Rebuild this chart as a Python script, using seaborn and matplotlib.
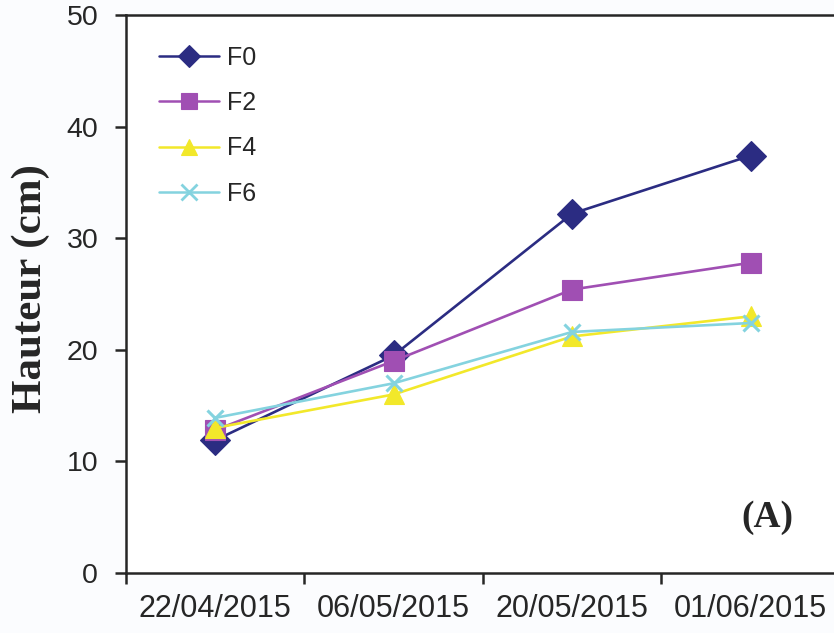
import pandas as pd
import numpy as np
import seaborn as sns
import matplotlib.pyplot as plt

# values
dates = ["22/04/2015", "06/05/2015", "20/05/2015", "01/06/2015"]
f0 = [11.9, 19.5, 32.2, 37.4]
f2 = [12.8, 19.0, 25.4, 27.8]
f4 = [13.0, 16.0, 21.2, 23.0]
f6 = [13.9, 17.0, 21.6, 22.4]
series = ["F0", "F2", "F4", "F6"]

colors = {"F0": "#2b2c82", "F2": "#a04fb3", "F4": "#f2e82a", "F6": "#84d3df"}
markers = {"F0": "D", "F2": "s", "F4": "^", "F6": "X"}

rows = []
for name, vals in zip(series, [f0, f2, f4, f6]):
    for i, v in enumerate(vals):
        rows.append({"pos": i, "date": dates[i], "serie": name, "hauteur": v})
df = pd.DataFrame(rows)

sns.set_style("ticks")
plt.rcParams['font.family'] = ['Liberation Sans', 'DejaVu Sans']

fig = plt.figure(figsize=(8.34, 6.33), dpi=100)
fig.patch.set_facecolor("#fbfcfe")
ax = fig.add_axes([0.151, 0.0948, 0.856, 0.8815])

sns.lineplot(data=df, x="pos", y="hauteur", hue="serie", style="serie",
             palette=colors, markers=markers, dashes=False, ax=ax,
             linewidth=1.9, markersize=14, markeredgewidth=0.8, legend=False)

# marker tweaks per series
for line, name in zip(ax.get_lines(), series):
    line.set_markeredgecolor(colors[name])
    if name == "F6":
        line.set_marker("x")
        line.set_markersize(11)
        line.set_markeredgewidth(2.2)
    elif name == "F2":
        line.set_markersize(14)
    else:
        line.set_markersize(15)

ax.set_xlim(-0.5, 3.5)
ax.set_ylim(0, 50)
ax.set_yticks([0, 10, 20, 30, 40, 50])
ax.set_xticks([-0.5, 0.5, 1.5, 2.5])
ax.set_xticklabels([])
ax.set_xticks(range(len(dates)), minor=True)
ax.set_xticklabels(dates, minor=True, fontsize=22)
ax.tick_params(axis="x", which="minor", length=0, pad=15)
ax.tick_params(axis="x", which="major", length=8, width=1.8, direction="out")
ax.tick_params(axis="y", labelsize=20.5, length=8, width=1.8, direction="out", pad=12)

ax.set_xlabel("")
ax.set_ylabel("Hauteur (cm)", fontsize=31, fontweight="bold",
              family=["Liberation Serif", "DejaVu Serif"])
ax.yaxis.set_label_coords(-0.106, 0.51)

for s in ["left", "bottom", "top"]:
    ax.spines[s].set_linewidth(1.8)
ax.spines["right"].set_visible(False)

ax.text(0.899, 0.10, "(A)", transform=ax.transAxes, fontsize=27,
        fontweight="bold", family=["Liberation Serif", "DejaVu Serif"],
        ha="center", va="center")

# legend
handles = []
for name in series:
    h, = ax.plot([], [], color=colors[name], marker="x" if name == "F6" else markers[name],
                 markersize=11, linewidth=1.8,
                 markeredgecolor=colors[name], markeredgewidth=2 if name == "F6" else 0.8)
    handles.append(h)
ax.legend(handles, series, loc="upper left", bbox_to_anchor=(0.015, 0.985),
          frameon=False, fontsize=18, handlelength=2.4, labelspacing=0.85,
          handletextpad=0.3)

fig.savefig("out.png", dpi=100, facecolor=fig.get_facecolor())
